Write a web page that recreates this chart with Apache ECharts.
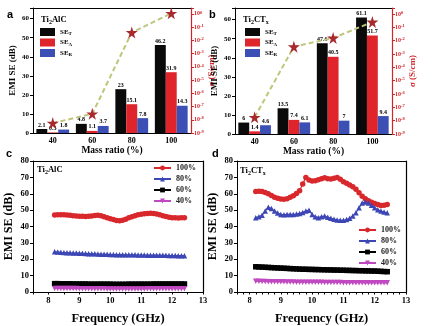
<!DOCTYPE html>
<html><head><meta charset="utf-8">
<script src="https://cdn.jsdelivr.net/npm/echarts@6/dist/echarts.min.js"></script>
<style>html,body{margin:0;padding:0;background:#fff}#c{width:432px;height:326px}</style>
</head><body><div id="c"></div>
<script>
// ---- data ----
const massRatio = ['40', '60', '80', '100'];
// Ti2AlC
const seT_A = [2.1, 4.8, 23, 46.2];
const seA_A = [0.3, 1.1, 15.1, 31.9];
const seR_A = [1.8, 3.7, 7.8, 14.3];
const logSigma_A = [-8.25, -7.55, -1.4, 0.05];   // log10 of conductivity (S/cm)
// Ti2CTx
const seT_B = [6, 13.5, 47.6, 61.1];
const seA_B = [1.4, 7.4, 40.5, 51.7];
const seR_B = [4.6, 6.1, 7, 9.4];
const logSigma_B = [-7.75, -2.45, -1.8, -0.6];
// frequency sweep (GHz)
const freq = [8.2,8.3,8.4,8.5,8.6,8.7,8.8,8.9,9.0,9.1,9.2,9.3,9.4,9.5,9.6,9.7,9.8,9.9,10.0,10.1,10.2,10.3,10.4,10.5,10.6,10.7,10.8,10.9,11.0,11.1,11.2,11.3,11.4,11.5,11.6,11.7,11.8,11.9,12.0,12.1,12.2,12.3,12.4];
const c100 = [47.0,47.2,47.2,47.1,47.0,46.8,46.6,46.4,46.3,46.2,46.1,46.2,46.4,46.7,46.9,46.6,46.0,45.4,44.8,44.2,43.7,43.5,43.8,44.5,45.3,46.0,46.6,47.1,47.5,47.8,48.0,48.1,48.0,47.7,47.2,46.6,46.1,45.7,45.4,45.3,45.2,45.3,45.4];
const c80 = [24.6,24.4,24.2,24.1,24.0,23.9,23.8,23.8,23.7,23.6,23.5,23.4,23.3,23.3,23.2,23.1,23.0,23.0,22.9,22.9,22.8,22.8,22.8,22.7,22.7,22.7,22.7,22.6,22.6,22.6,22.5,22.5,22.5,22.5,22.4,22.4,22.4,22.3,22.3,22.3,22.2,22.2,22.2];
const c60 = [5.1,5.1,5.0,5.0,5.0,5.0,4.9,4.9,4.9,4.9,4.9,4.8,4.8,4.8,4.8,4.8,4.8,4.8,4.8,4.7,4.7,4.7,4.7,4.7,4.8,4.8,4.8,4.8,4.8,4.8,4.8,4.8,4.9,4.9,4.9,4.9,4.9,4.9,4.9,4.9,4.9,4.9,4.9];
const c40 = [2.2,2.2,2.2,2.1,2.1,2.1,2.1,2.1,2.0,2.0,2.0,2.0,2.0,2.0,2.0,2.0,2.0,1.9,1.9,1.9,1.9,1.9,1.9,1.9,1.9,1.9,1.9,1.9,1.9,1.9,2.0,2.0,2.0,2.0,2.0,2.0,2.0,2.0,2.0,2.0,2.0,2.0,2.0];
const d100 = [61.4,61.5,61.4,60.8,60.0,58.9,57.8,57.2,56.8,56.7,57.0,57.8,58.8,60.2,61.8,66.0,70.0,68.4,67.8,68.0,68.6,69.2,69.8,69.2,69.0,69.4,70.0,68.8,67.4,66.4,65.4,64.2,62.8,60.6,58.4,57.0,55.8,54.8,54.0,53.4,52.8,53.0,53.4];
const d80 = [45.4,46.0,46.8,49.4,51.8,51.0,49.4,48.2,47.4,47.2,47.4,47.4,47.4,47.6,48.0,48.6,49.4,50.0,47.4,46.0,45.4,46.0,46.4,45.6,45.0,44.5,44.0,43.8,43.8,44.2,45.0,46.4,48.4,51.4,54.4,55.0,54.4,53.0,51.4,50.2,49.4,48.8,48.4];
const d60 = [15.4,15.3,15.2,15.1,15.0,14.9,14.8,14.7,14.6,14.5,14.4,14.3,14.2,14.1,14.0,13.9,13.9,13.8,13.8,13.7,13.7,13.6,13.6,13.5,13.5,13.4,13.4,13.3,13.3,13.2,13.2,13.1,13.1,13.0,13.0,12.9,12.9,12.8,12.8,12.7,12.6,12.5,12.4];
const d40 = [6.5,6.5,6.4,6.4,6.3,6.3,6.3,6.2,6.2,6.2,6.1,6.1,6.1,6.0,6.0,6.0,6.0,5.9,5.9,5.9,5.9,5.9,5.8,5.8,5.8,5.8,5.8,5.8,5.7,5.7,5.7,5.7,5.7,5.7,5.7,5.6,5.6,5.6,5.6,5.6,5.6,5.6,5.6];
const legendSE = ['SE_T', 'SE_A', 'SE_R'];
const legendMass = ['100%', '80%', '60%', '40%'];

// ---- style ----
const F = '"Liberation Serif","Times New Roman",serif';
const RED_AX = '#d0262b';
const COL = { T: '#0a0a0a', A: '#e0242b', R: '#3b4fb5' };
const STAR = 'path://M50,0 L61,35 L98,35 L68,57 L79,91 L50,70 L21,91 L32,57 L2,35 L39,35 Z';
const isInt = v => Math.abs(v - Math.round(v)) < 1e-6;

function catX(grid) {
  return {
    type: 'category', gridIndex: grid, data: massRatio, boundaryGap: true,
    axisLine: { lineStyle: { color: '#000', width: 1 } },
    axisTick: { alignWithLabel: true, length: 3, lineStyle: { color: '#000' } },
    axisLabel: { fontFamily: F, fontWeight: 'bold', fontSize: 8, color: '#000', margin: 4 },
    name: 'Mass ratio (%)', nameLocation: 'middle', nameGap: 13,
    nameTextStyle: { fontFamily: F, fontWeight: 'bold', fontSize: 9.5, color: '#000' }
  };
}
function frameX(grid, type, min, max) {
  const o = { type: type, gridIndex: grid, position: 'top',
    axisLine: { show: true, onZero: false, lineStyle: { color: '#000', width: 1.2 } },
    axisTick: { show: false }, axisLabel: { show: false }, splitLine: { show: false } };
  if (type === 'category') o.data = massRatio; else { o.min = min; o.max = max; }
  return o;
}
function frameY(grid) {
  return { type: 'value', gridIndex: grid, position: 'right', min: 0, max: 80,
    axisLine: { show: true, onZero: false, lineStyle: { color: '#000', width: 1.2 } },
    axisTick: { show: false }, axisLabel: { show: false }, splitLine: { show: false } };
}
function seY(grid, max, nameGap) {
  return {
    type: 'value', gridIndex: grid, min: 0, max: max, interval: 10,
    axisLine: { show: true, lineStyle: { color: '#000' } },
    axisTick: { show: true, length: 3, lineStyle: { color: '#000' } },
    splitLine: { show: false },
    axisLabel: { fontFamily: F, fontWeight: 'bold', fontSize: 7, color: '#000', margin: 4,
      formatter: v => (v % 10 === 0 ? String(v) : '') },
    name: 'EMI SE (dB)', nameLocation: 'middle', nameGap: nameGap,
    nameTextStyle: { fontFamily: F, fontWeight: 'bold', fontSize: 9, color: '#000' }
  };
}
function sigY(grid) {
  return {
    type: 'value', gridIndex: grid, position: 'right', min: -9, max: 0.45, interval: 1,
    axisLine: { show: true, lineStyle: { color: RED_AX, width: 1.2 } },
    axisTick: { show: true, length: 3, lineStyle: { color: RED_AX } },
    splitLine: { show: false },
    axisLabel: { margin: 3, color: RED_AX,
      formatter: v => (isInt(v) ? '{b|10}{p|' + Math.round(v) + '}' : ''),
      rich: { b: { fontFamily: F, fontWeight: 'bold', fontSize: 6, color: RED_AX },
              p: { fontFamily: F, fontWeight: 'bold', fontSize: 4.5, color: RED_AX, verticalAlign: 'top', padding: [0, 0, 3, 0] } } },
    name: 'σ (S/cm)', nameLocation: 'middle', nameGap: 12, nameRotate: 90,
    nameTextStyle: { fontFamily: F, fontWeight: 'bold', fontSize: 9, color: RED_AX }
  };
}
function freqX(grid, min, interval) {
  return {
    type: 'value', gridIndex: grid, min: min, max: 13, interval: interval,
    axisLine: { show: true, onZero: false, lineStyle: { color: '#000' } },
    axisTick: { show: true, length: 2.5, lineStyle: { color: '#000' } },
    splitLine: { show: false },
    axisLabel: { fontFamily: F, fontWeight: 'bold', fontSize: 8.5, color: '#000', margin: 4,
      formatter: v => (isInt(v) ? String(Math.round(v)) : '') },
    name: 'Frequency (GHz)', nameLocation: 'middle', nameGap: 20,
    nameTextStyle: { fontFamily: F, fontWeight: 'bold', fontSize: 12.5, color: '#000' }
  };
}
function freqY(grid) {
  return {
    type: 'value', gridIndex: grid, min: 0, max: 80, interval: 10,
    axisLine: { show: true, onZero: false, lineStyle: { color: '#000' } },
    axisTick: { show: true, length: 3, lineStyle: { color: '#000' } },
    splitLine: { show: false },
    axisLabel: { fontFamily: F, fontWeight: 'bold', fontSize: 8.5, color: '#000', margin: 4 },
    name: 'EMI SE (dB)', nameLocation: 'middle', nameGap: 18,
    nameTextStyle: { fontFamily: F, fontWeight: 'bold', fontSize: 12, color: '#000' }
  };
}
function barSeries(xi, yi, vals, key) {
  return {
    type: 'bar', name: 'SE_' + key, xAxisIndex: xi, yAxisIndex: yi, data: vals,
    barGap: '0%', barCategoryGap: '17%',
    itemStyle: { color: COL[key] },
    label: { show: true, position: 'top', distance: 1, fontFamily: F, fontWeight: 'bold', fontSize: 6, color: '#000' }
  };
}
function sigmaSeries(xi, yi, vals) {
  return {
    type: 'line', name: 'sigma', xAxisIndex: xi, yAxisIndex: yi, data: vals, z: 5,
    symbol: STAR, symbolSize: 12,
    lineStyle: { type: [5, 3], width: 2, color: '#bfc57a' },
    itemStyle: { color: '#a82a2d' }
  };
}
function freqSeries(xi, yi, name, vals, color, symbol, rot) {
  return {
    type: 'line', name: name, xAxisIndex: xi, yAxisIndex: yi,
    data: freq.map((f, i) => [f, vals[i]]),
    symbol: symbol, symbolSize: 5.5, symbolRotate: rot || 0, showAllSymbol: true,
    lineStyle: { width: 1.2, color: color }, itemStyle: { color: color }
  };
}
const seRich = {
  m: { fontFamily: F, fontWeight: 'bold', fontSize: 7, color: '#000' },
  s: { fontFamily: F, fontWeight: 'bold', fontSize: 5, color: '#000', verticalAlign: 'bottom', padding: [4, 0, 0, 0] }
};
function seLegend(left) {
  return { data: legendSE, orient: 'vertical', left: left, top: 28, icon: 'rect',
    itemWidth: 15, itemHeight: 8, itemGap: 2, padding: 0,
    formatter: n => '{m|SE}{s|' + n.split('_')[1] + '}',
    textStyle: { rich: seRich } };
}
function massLegend(left, top) {
  return { data: legendMass, orient: 'vertical', left: left, top: top,
    itemWidth: 17, itemHeight: 6, itemGap: 3, padding: 0,
    textStyle: { fontFamily: F, fontWeight: 'bold', fontSize: 8, color: '#222' } };
}
const tiRich = { s: { fontFamily: F, fontWeight: 'bold', fontSize: 6, color: '#000', verticalAlign: 'bottom', padding: [5, 0, 0, 0] } };
function tiTitle(text, left, top) {
  return { text: text, left: left, top: top, padding: 0,
    textStyle: { fontFamily: F, fontWeight: 'bold', fontSize: 8.5, color: '#000', rich: tiRich } };
}
function letter(t, left, top) {
  return { text: t, left: left, top: top, padding: 0,
    textStyle: { fontFamily: 'Liberation Sans, Arial, sans-serif', fontWeight: 'bold', fontSize: 11, color: '#000' } };
}

const chart = echarts.init(document.getElementById('c'), null, { renderer: 'canvas' });
chart.setOption({
  backgroundColor: '#fff',
  animation: false,
  title: [
    letter('a', 7, 9), letter('b', 209, 9), letter('c', 6, 148), letter('d', 212, 148),
    tiTitle('Ti{s|2}AlC', 41, 14), tiTitle('Ti{s|2}CT{s|x}', 243, 14),
    tiTitle('Ti{s|2}AlC', 37, 164), tiTitle('Ti{s|2}CT{s|x}', 240, 165)
  ],
  legend: [seLegend(40), seLegend(245), massLegend(153, 164), massLegend(358, 226)],
  grid: [
    { left: 33, top: 8, width: 158, height: 125 },
    { left: 235, top: 8, width: 157, height: 126 },
    { left: 33, top: 161, width: 170, height: 134 },
    { left: 237, top: 161, width: 169, height: 134 }
  ],
  xAxis: [catX(0), catX(1), freqX(2, 7.5, 0.5), freqX(3, 7.6, 0.2),
          frameX(0, 'category'), frameX(1, 'category'), frameX(2, 'value', 7.5, 13), frameX(3, 'value', 7.6, 13)],
  yAxis: [seY(0, 65.6, 16), sigY(0), seY(1, 66.1, 16), sigY(1), freqY(2), freqY(3), frameY(2), frameY(3)],
  series: [
    barSeries(0, 0, seT_A, 'T'), barSeries(0, 0, seA_A, 'A'), barSeries(0, 0, seR_A, 'R'),
    sigmaSeries(0, 1, logSigma_A),
    barSeries(1, 2, seT_B, 'T'), barSeries(1, 2, seA_B, 'A'), barSeries(1, 2, seR_B, 'R'),
    sigmaSeries(1, 3, logSigma_B),
    freqSeries(2, 4, '100%', c100, '#d8282c', 'circle'),
    freqSeries(2, 4, '80%', c80, '#3c46b4', 'triangle'),
    freqSeries(2, 4, '60%', c60, '#000000', 'rect'),
    freqSeries(2, 4, '40%', c40, '#c048c0', 'triangle', 180),
    freqSeries(3, 5, '100%', d100, '#d8282c', 'circle'),
    freqSeries(3, 5, '80%', d80, '#3c46b4', 'triangle'),
    freqSeries(3, 5, '60%', d60, '#000000', 'rect'),
    freqSeries(3, 5, '40%', d40, '#c048c0', 'triangle', 180)
  ]
});
</script>
</body></html>
